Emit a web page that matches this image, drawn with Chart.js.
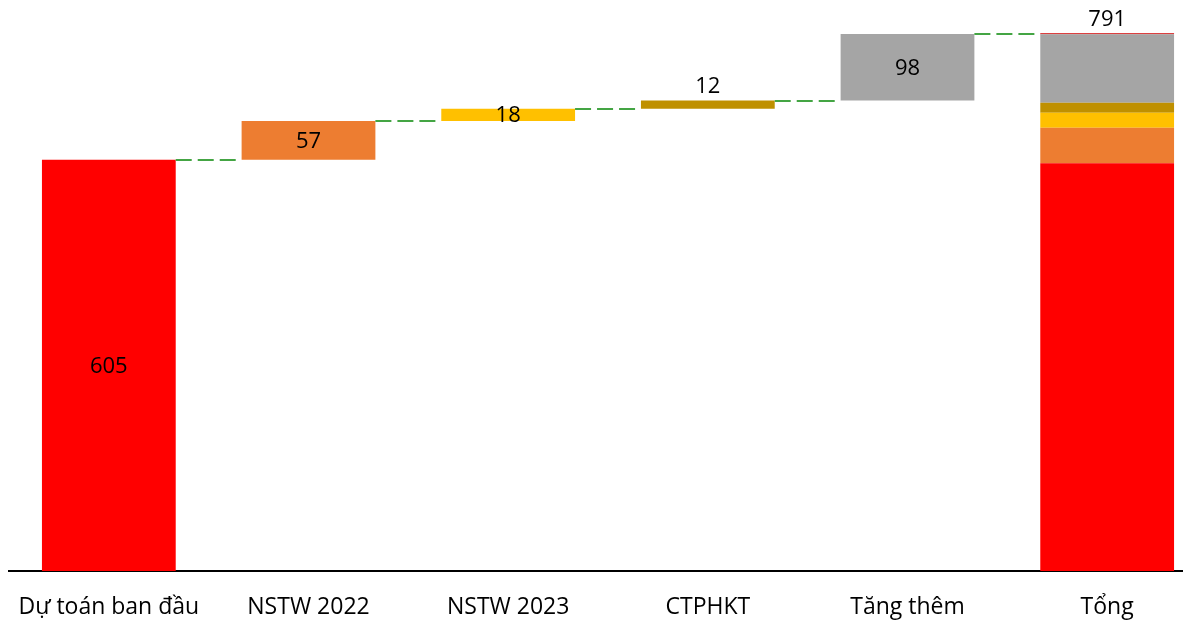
<!DOCTYPE html>
<html>
<head>
<meta charset="utf-8">
<script src="https://cdn.jsdelivr.net/npm/chart.js@4"></script>
<style>
  html, body { margin: 0; padding: 0; background: #fff; overflow: hidden; }
  #wrap { width: 1183px; height: 620px; overflow: hidden; }
</style>
</head>
<body>
<div id="wrap"><canvas id="chart" width="1216" height="620"></canvas></div>
<script>
const categories = ['Dự toán ban đầu', 'NSTW 2022', 'NSTW 2023', 'CTPHKT', 'Tăng thêm', 'Tổng'];
const steps = [605, 57, 18, 12, 98];
const stepColors = ['#FF0000', '#ED7D31', '#FFC000', '#BF9000', '#A5A5A5'];
const totalValue = 791;
// segments of the total bar, bottom to top
const totalParts = [600, 52, 22, 15, 100.5, 1.5];
const totalColors = ['#FF0000', '#ED7D31', '#FFC000', '#BF9000', '#A5A5A5', '#D00000'];

const fontFamily = '"Open Sans", "Noto Sans", sans-serif';

// floating ranges for the step bars
let run = 0;
const stepRanges = steps.map(v => { const r = [run, run + v]; run += v; return r; });
stepRanges.push(null);

const datasets = [{
    data: stepRanges,
    backgroundColor: stepColors,
    barPercentage: 0.67,
    categoryPercentage: 1,
    grouped: false,
}];

let acc = 0;
for (let i = 0; i < totalParts.length; i++) {
    const d = categories.map(() => null);
    d[categories.length - 1] = [acc, acc + totalParts[i]];
    acc += totalParts[i];
    datasets.push({
        data: d,
        backgroundColor: totalColors[i],
        barPercentage: 0.67,
        categoryPercentage: 1,
        grouped: false,
    });
}

const waterfallExtras = {
    id: 'waterfallExtras',
    afterDatasetsDraw(chart) {
        const ctx = chart.ctx;
        const y = chart.scales.y;
        const bars = chart.getDatasetMeta(0).data;
        const totalMeta = chart.getDatasetMeta(datasets.length - 1).data;

        // dashed connectors
        ctx.save();
        ctx.strokeStyle = '#44A544';
        ctx.lineWidth = 2.2;
        ctx.setLineDash([16, 6]);
        let level = 0;
        for (let i = 0; i < steps.length; i++) {
            level += steps[i];
            const a = bars[i];
            const b = i + 1 < steps.length ? bars[i + 1] : totalMeta[categories.length - 1];
            const yy = Math.round(y.getPixelForValue(level));
            ctx.beginPath();
            ctx.moveTo(a.x + a.width / 2, yy);
            ctx.lineTo(b.x - b.width / 2, yy);
            ctx.stroke();
        }
        ctx.restore();

        // value labels
        ctx.save();
        ctx.fillStyle = '#000';
        ctx.font = '22px ' + fontFamily;
        ctx.textAlign = 'center';
        ctx.textBaseline = 'middle';
        for (let i = 0; i < steps.length; i++) {
            const bar = bars[i];
            const h = Math.abs(bar.base - bar.y);
            const top = Math.min(bar.base, bar.y);
            const cy = h < 10 ? top - 14 : top + h / 2 + 1;
            ctx.fillText(String(steps[i]), bar.x, cy);
        }
        const tb = totalMeta[categories.length - 1];
        ctx.fillText(String(totalValue), tb.x, y.getPixelForValue(totalValue) - 14);
        ctx.restore();
    }
};

new Chart(document.getElementById('chart'), {
    type: 'bar',
    data: { labels: categories, datasets: datasets },
    options: {
        responsive: false,
        animation: false,
        maintainAspectRatio: false,
        layout: { padding: { left: 9, right: 9, top: 0, bottom: 0 } },
        plugins: {
            legend: { display: false },
            tooltip: { enabled: false },
        },
        scales: {
            x: {
                grid: { display: false, drawTicks: false },
                border: { display: true, color: '#000', width: 2 },
                ticks: {
                    color: '#000',
                    padding: 23,
                    font: { family: fontFamily, size: 23 },
                },
                afterFit(scale) {
                    scale.height = 49;
                    scale.paddingLeft = 0;
                    scale.paddingRight = 0;
                },
            },
            y: {
                display: false,
                min: 0,
                max: 840,
            },
        },
    },
    plugins: [waterfallExtras],
});
</script>
</body>
</html>
